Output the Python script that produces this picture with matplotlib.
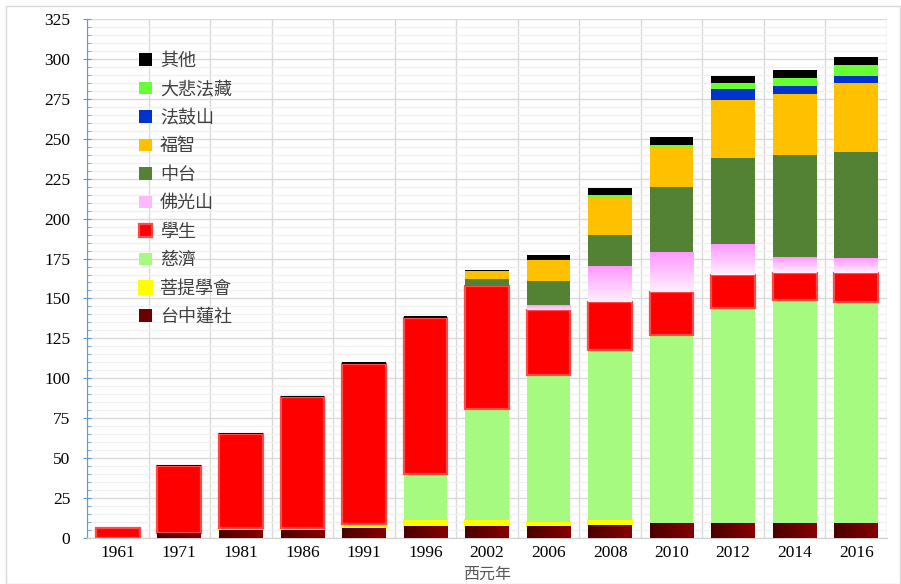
import numpy as np
import matplotlib
matplotlib.use('Agg')
from matplotlib import pyplot as plt
from matplotlib.colors import LinearSegmentedColormap
from matplotlib.patches import Rectangle
from matplotlib.ticker import MultipleLocator


years = ['1961', '1971', '1981', '1986', '1991', '1996', '2002',
         '2006', '2008', '2010', '2012', '2014', '2016']

taichung = [0, 3, 5, 5, 6, 7, 7, 7, 8, 9, 9, 9, 9]
puti = [0, 0, 1, 1, 3, 4, 4, 3, 3, 0, 0, 0, 0]
tzuchi = [0, 0, 0, 0, 0, 29, 70, 92, 107, 118, 135, 140, 139]
students = [6, 42, 59, 82, 100, 98, 77, 41, 30, 27, 21, 17, 18]
foguang = [0, 0, 0, 0, 0, 0, 0, 3, 22, 25, 19, 10, 9]
chungtai = [0, 0, 0, 0, 0, 0, 4, 15, 20, 41, 54, 64, 67]
fuzhi = [0, 0, 0, 0, 0, 0, 5, 13, 23, 24, 36, 38, 43]
ddm = [0, 0, 0, 0, 0, 0, 0, 0, 0, 0, 7, 5, 4]
dabei = [0, 0, 0, 0, 0, 0, 0, 0, 2, 2, 4, 5, 7]
other = [0, 1, 1, 1, 1, 1, 1, 3, 4, 5, 4, 5, 5]

series = [
    ('台中蓮社', taichung, '#6b0000', {}),
    ('菩提學會', puti, '#ffff00', dict(edgecolor='#ffff00', linewidth=1.5)),
    ('慈濟', tzuchi, '#a6fa80', {}),
    ('學生', students, '#ff0000', dict(edgecolor='#ff4a4a', linewidth=1.6)),
    ('佛光山', foguang, '#ffb8ff', {}),
    ('中台', chungtai, '#548235', {}),
    ('福智', fuzhi, '#ffc000', {}),
    ('法鼓山', ddm, '#0033cc', {}),
    ('大悲法藏', dabei, '#66ff33', {}),
    ('其他', other, '#000000', {}),
]

plt.rcParams['font.family'] = ['Noto Sans CJK TC', 'DejaVu Sans']

fig = plt.figure(figsize=(9.01, 5.84), dpi=100)
ax = fig.add_axes([87 / 901, 1 - 538 / 584, 800 / 901, 519 / 584])

fig.patches.append(Rectangle((6 / 901, 0), 894 / 901, 1 - 6 / 584,
                             transform=fig.transFigure, fill=False,
                             edgecolor='#d9d9d9', linewidth=1))

x = np.arange(len(years))
width = 0.71
bottom = np.zeros(len(years))
containers = {}
for label, vals, color, kw in series:
    vals = np.array(vals, dtype=float)
    c = ax.bar(x, vals, width, bottom=bottom, color=color, label=label,
               zorder=3, **kw)
    containers[label] = c
    bottom += vals

# gradients
dark_cmap = LinearSegmentedColormap.from_list('dk', ['#4a0000', '#880000'])
pink_cmap = LinearSegmentedColormap.from_list('pk', ['#fff0ff', '#ff99ff'])
hgrad = np.linspace(0, 1, 64).reshape(1, -1)
vgrad = np.linspace(0, 1, 64).reshape(-1, 1)
for p in containers['台中蓮社']:
    if p.get_height() > 0:
        x0, y0 = p.get_x(), p.get_y()
        ax.imshow(hgrad, extent=[x0, x0 + p.get_width(), y0, y0 + p.get_height()],
                  cmap=dark_cmap, aspect='auto', zorder=3.5, origin='lower')
for p in containers['佛光山']:
    if p.get_height() > 0:
        x0, y0 = p.get_x(), p.get_y()
        ax.imshow(vgrad, extent=[x0, x0 + p.get_width(), y0, y0 + p.get_height()],
                  cmap=pink_cmap, aspect='auto', zorder=3.5, origin='lower')

ax.set_xlim(-0.5, len(years) - 0.5)
ax.set_ylim(0, 325)

ax.yaxis.set_major_locator(MultipleLocator(25))
ax.yaxis.set_minor_locator(MultipleLocator(5))
ax.grid(which='major', axis='y', color='#d9d9d9', linewidth=1, zorder=0)
ax.grid(which='minor', axis='y', color='#f0f0f0', linewidth=1, zorder=0)
ax.set_xticks(x)
ax.set_xticks(np.arange(len(years) + 1) - 0.5, minor=True)
ax.grid(which='minor', axis='x', color='#d9d9d9', linewidth=1, zorder=0)
ax.set_xticklabels(years)

for s in ['top', 'right']:
    ax.spines[s].set_visible(False)
ax.spines['left'].set_color('#5b9bd5')
ax.spines['bottom'].set_color('#d0d0d0')

ax.tick_params(axis='y', which='major', direction='inout', length=6,
               color='#5b9bd5', pad=9)
ax.tick_params(axis='y', which='minor', direction='in', length=3,
               color='#5b9bd5')
ax.tick_params(axis='x', which='major', direction='in', length=4,
               color='#bbbbbb', pad=5)
ax.tick_params(axis='x', which='minor', length=0)

for lab in ax.get_xticklabels() + ax.get_yticklabels():
    lab.set_fontfamily('Liberation Serif')
    lab.set_fontsize(12.5)
    lab.set_color('#000000')

ax.set_xlabel('西元年', fontsize=11.5, color='#595959', labelpad=3.5)

handles, labels = ax.get_legend_handles_labels()
leg = ax.legend(handles[::-1], labels[::-1], loc='upper left',
                bbox_to_anchor=(0.045, 0.968), frameon=False, fontsize=13,
                handlelength=0.7, handleheight=0.7, handletextpad=0.45,
                labelspacing=0.58)
for t in leg.get_texts():
    t.set_color('#404040')

fig.savefig('out.png', dpi=100)
